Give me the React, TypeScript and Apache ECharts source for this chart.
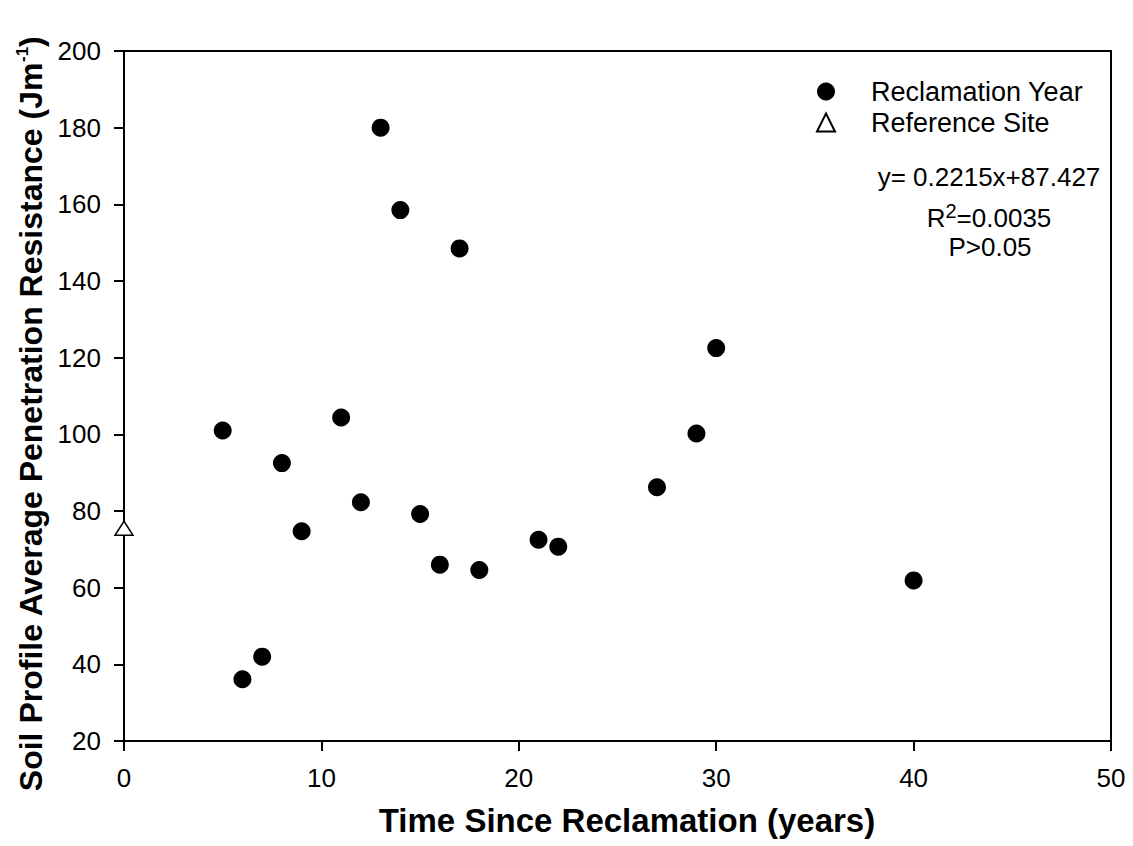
import React, { useEffect, useRef } from "react";
import * as echarts from "echarts";

const years = [5, 6, 7, 8, 9, 11, 12, 13, 14, 15, 16, 17, 18, 21, 22, 27, 29, 30, 40];
const resistance = [101, 36.1, 42, 92.5, 74.7, 104.4, 82.3, 180, 158.5, 79.2, 66, 148.5, 64.6, 72.5, 70.7, 86.2, 100.2, 122.5, 61.9];
const referenceYears = [0];
const referenceValues = [75.5];

const seriesNames = ["Reclamation Year", "Reference Site"];
const xTitle = "Time Since Reclamation (years)";
const yTitleMain = "Soil Profile Average Penetration Resistance (Jm";
const equationLines = ["y= 0.2215x+87.427", "R", "2", "=0.0035", "P>0.05"];

const FONT = "'Liberation Sans', Arial, Helvetica, sans-serif";

export default function App() {
  const ref = useRef<HTMLDivElement>(null);

  useEffect(() => {
    document.body.style.margin = "0";
    if (!ref.current) return;
    const chart = echarts.init(ref.current, undefined, { renderer: "svg" });

    const mainData = years.map((x, i) => [x, resistance[i]]);
    const refData = referenceYears.map((x, i) => [x, referenceValues[i]]);

    chart.setOption({
      animation: false,
      backgroundColor: "#ffffff",
      textStyle: { fontFamily: FONT },
      grid: {
        left: 124,
        top: 51,
        right: 22,
        bottom: 105,
        show: true,
        borderColor: "#000",
        borderWidth: 2,
        backgroundColor: "transparent",
      },
      legend: {
        orient: "vertical",
        left: 811,
        top: 73,
        itemWidth: 18,
        itemHeight: 18,
        itemGap: 4,
        align: "left",
        textStyle: {
          fontFamily: FONT,
          fontSize: 27,
          color: "#000",
          lineHeight: 27,
          padding: [0, 0, 0, 31],
        },
        data: [
          { name: seriesNames[0], icon: "circle" },
          { name: seriesNames[1], icon: "triangle" },
        ],
      },
      xAxis: {
        type: "value",
        min: 0,
        max: 50,
        interval: 10,
        splitLine: { show: false },
        axisLine: { show: true, onZero: false, lineStyle: { color: "#000", width: 2 } },
        axisTick: { show: true, inside: false, length: 10, lineStyle: { color: "#000", width: 2 } },
        axisLabel: { color: "#000", fontSize: 26, fontFamily: FONT, margin: 24 },
      },
      yAxis: {
        type: "value",
        min: 20,
        max: 200,
        interval: 20,
        splitLine: { show: false },
        axisLine: { show: true, onZero: false, lineStyle: { color: "#000", width: 2 } },
        axisTick: { show: true, inside: false, length: 10, lineStyle: { color: "#000", width: 2 } },
        axisLabel: { color: "#000", fontSize: 26, fontFamily: FONT, margin: 23 },
      },
      series: [
        {
          name: seriesNames[0],
          type: "scatter",
          data: mainData,
          symbol: "circle",
          symbolSize: 18,
          itemStyle: { color: "#000", opacity: 1 },
          z: 3,
        },
        {
          name: seriesNames[1],
          type: "scatter",
          data: refData,
          symbol: "triangle",
          symbolSize: [18, 14],
          clip: false,
          itemStyle: { color: "#fff", borderColor: "#000", borderWidth: 1.5, opacity: 1 },
          z: 4,
        },
      ],
      graphic: [
        {
          type: "text",
          x: 627,
          y: 820,
          style: {
            text: xTitle,
            fontFamily: FONT,
            fontSize: 33,
            fontWeight: "bold",
            fill: "#000",
            align: "center",
            verticalAlign: "middle",
          },
        },
        {
          type: "text",
          x: 31,
          y: 414,
          rotation: Math.PI / 2,
          style: {
            text: "{m|" + yTitleMain + "}{s|-1}{m|)}",
            fontFamily: FONT,
            fill: "#000",
            align: "center",
            verticalAlign: "middle",
            rich: {
              m: { fontFamily: FONT, fontSize: 32, fontWeight: "bold", fill: "#000", color: "#000" },
              s: {
                fontFamily: FONT,
                fontSize: 17,
                fontWeight: "bold",
                fill: "#000",
                color: "#000",
                padding: [0, 0, 18, 0],
              },
            },
          },
        },
        {
          type: "text",
          x: 989,
          y: 177,
          style: {
            text: equationLines[0],
            fontFamily: FONT,
            fontSize: 26,
            fill: "#000",
            align: "center",
            verticalAlign: "middle",
          },
        },
        {
          type: "text",
          x: 989,
          y: 218,
          style: {
            text: "{n|" + equationLines[1] + "}{s|" + equationLines[2] + "}{n|" + equationLines[3] + "}",
            fontFamily: FONT,
            fill: "#000",
            align: "center",
            verticalAlign: "middle",
            rich: {
              n: { fontFamily: FONT, fontSize: 26, fill: "#000", color: "#000" },
              s: { fontFamily: FONT, fontSize: 20, fill: "#000", color: "#000", padding: [0, 0, 14, 0] },
            },
          },
        },
        {
          type: "text",
          x: 990,
          y: 247,
          style: {
            text: equationLines[4],
            fontFamily: FONT,
            fontSize: 26,
            fill: "#000",
            align: "center",
            verticalAlign: "middle",
          },
        },
      ],
    });

    return () => {
      chart.dispose();
    };
  }, []);

  return <div ref={ref} style={{ width: 1133, height: 846 }} />;
}
